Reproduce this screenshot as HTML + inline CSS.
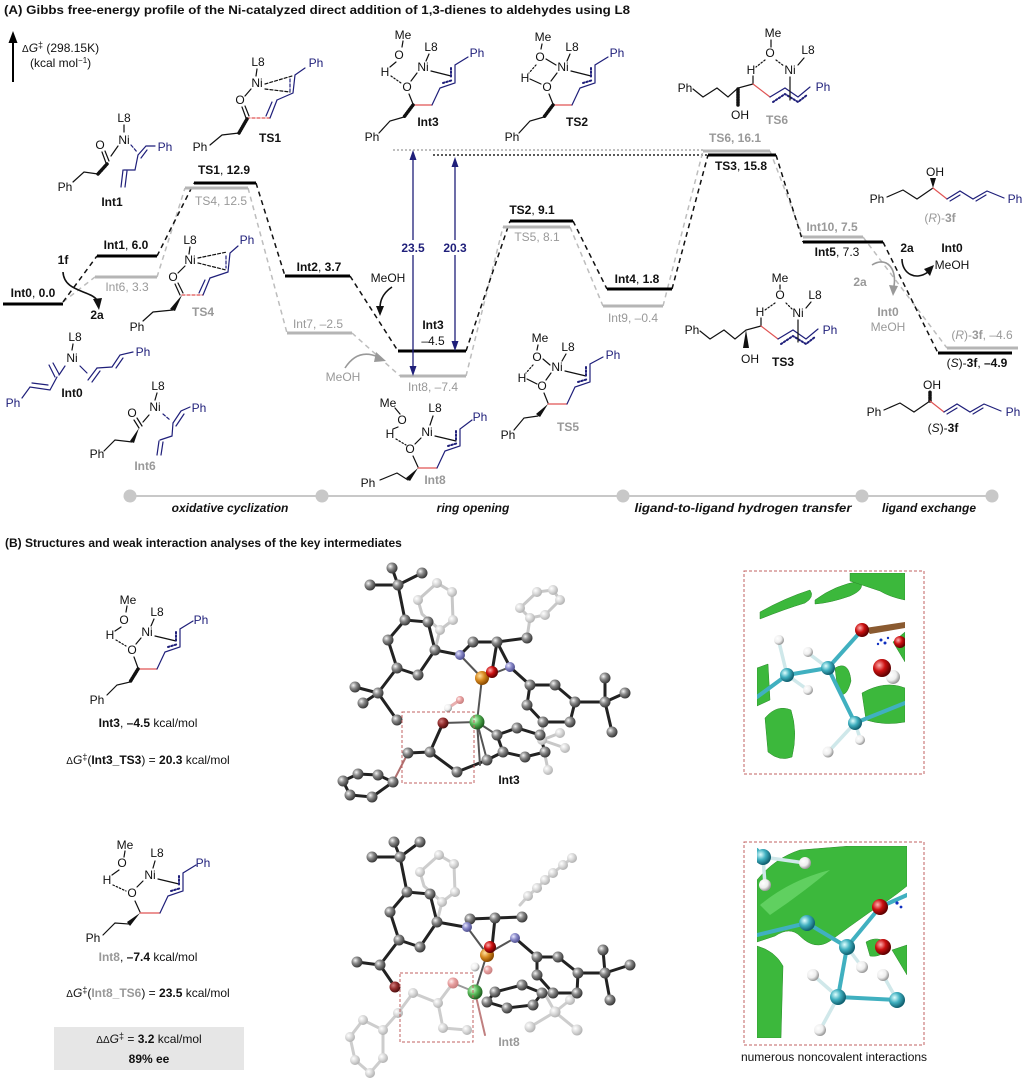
<!DOCTYPE html>
<html><head><meta charset="utf-8">
<style>
html,body{margin:0;padding:0;background:#fff;}
svg{display:block;}
text{font-family:"Liberation Sans",Arial,sans-serif;font-size:12px;fill:#111;stroke:none;}
.m{text-anchor:middle}
.b{font-weight:bold}
.g{fill:#999}
.bl{fill:#1f1f7a}
.i{font-style:italic}
.bi{font-weight:bold;font-style:italic}
.h{stroke-width:3.5;stroke-dasharray:1 1.6}
.dt{stroke-dasharray:1.5 2}
.ds{stroke-dasharray:3 2}
.bs{stroke:#1f1f7a}
.rs{stroke:#e05555}
</style></head><body>
<svg width="1027" height="1085" viewBox="0 0 1027 1085" xmlns="http://www.w3.org/2000/svg">
<defs>
<radialGradient id="gD" cx="35%" cy="35%" r="65%"><stop offset="0" stop-color="#f5f5f5"/><stop offset="0.45" stop-color="#8a8a8a"/><stop offset="1" stop-color="#3a3a3a"/></radialGradient>
<radialGradient id="gL" cx="35%" cy="35%" r="65%"><stop offset="0" stop-color="#ffffff"/><stop offset="0.5" stop-color="#dcdcdc"/><stop offset="1" stop-color="#b4b4b4"/></radialGradient>
<radialGradient id="gN" cx="35%" cy="35%" r="65%"><stop offset="0" stop-color="#e8e8ff"/><stop offset="0.5" stop-color="#8888c8"/><stop offset="1" stop-color="#505090"/></radialGradient>
<radialGradient id="gP" cx="35%" cy="35%" r="65%"><stop offset="0" stop-color="#ffe0a0"/><stop offset="0.5" stop-color="#d88a20"/><stop offset="1" stop-color="#8a4a00"/></radialGradient>
<radialGradient id="gO" cx="35%" cy="35%" r="65%"><stop offset="0" stop-color="#ffb0b0"/><stop offset="0.5" stop-color="#cc1010"/><stop offset="1" stop-color="#600000"/></radialGradient>
<radialGradient id="gOd" cx="35%" cy="35%" r="65%"><stop offset="0" stop-color="#d08080"/><stop offset="0.5" stop-color="#963030"/><stop offset="1" stop-color="#501010"/></radialGradient>
<radialGradient id="gPk" cx="35%" cy="35%" r="65%"><stop offset="0" stop-color="#fff0f0"/><stop offset="0.5" stop-color="#e8a0a0"/><stop offset="1" stop-color="#c88080"/></radialGradient>
<radialGradient id="gNi" cx="35%" cy="35%" r="65%"><stop offset="0" stop-color="#d8ffd8"/><stop offset="0.5" stop-color="#58b858"/><stop offset="1" stop-color="#206020"/></radialGradient>
<radialGradient id="gC" cx="35%" cy="35%" r="65%"><stop offset="0" stop-color="#e0ffff"/><stop offset="0.5" stop-color="#40b0c0"/><stop offset="1" stop-color="#106070"/></radialGradient>
<radialGradient id="gH" cx="35%" cy="35%" r="65%"><stop offset="0" stop-color="#ffffff"/><stop offset="0.6" stop-color="#eeeeee"/><stop offset="1" stop-color="#9a9a9a"/></radialGradient>
<clipPath id="c1"><rect x="757" y="573" width="148" height="198"/></clipPath>
<clipPath id="c2"><rect x="757" y="846" width="150" height="192"/></clipPath>
</defs>

<!-- ============ PANEL A ============ -->
<text x="4" y="14" class="b" textLength="626" lengthAdjust="spacingAndGlyphs">(A) Gibbs free-energy profile of the Ni-catalyzed direct addition of 1,3-dienes to aldehydes using L8</text>

<!-- axis -->
<line x1="13" y1="82" x2="13" y2="40" stroke="#000" stroke-width="2"/>
<polygon points="13,31 8.5,43 17.5,43" fill="#000"/>
<text x="22" y="52"><tspan font-size="10">Δ</tspan><tspan class="i">G</tspan><tspan font-size="9" dy="-4">‡</tspan><tspan dy="4"> (298.15K)</tspan></text>
<text x="30" y="67">(kcal mol<tspan font-size="8" dy="-4">−1</tspan><tspan dy="4">)</tspan></text>

<!-- dotted reference lines -->
<line x1="393" y1="150" x2="703" y2="150" stroke="#aaa" stroke-width="1.5" stroke-dasharray="2 2"/>
<line x1="433" y1="155" x2="708" y2="155" stroke="#222" stroke-width="1.5" stroke-dasharray="2 2"/>

<!-- gray dashed connectors -->
<g stroke="#bdbdbd" stroke-width="1.5" stroke-dasharray="5 4" fill="none">
<line x1="63" y1="302" x2="95" y2="277"/>
<line x1="157" y1="277" x2="185" y2="188"/>
<line x1="248" y1="188" x2="287" y2="333"/>
<line x1="352" y1="333" x2="400" y2="376"/>
<line x1="466" y1="376" x2="503" y2="227"/>
<line x1="570" y1="227" x2="603" y2="306"/>
<line x1="663" y1="306" x2="703" y2="151"/>
<line x1="770" y1="151" x2="803" y2="237"/>
<line x1="863" y1="237" x2="947" y2="348"/>
</g>
<!-- black dashed connectors -->
<g stroke="#111" stroke-width="1.5" stroke-dasharray="5 4" fill="none">
<line x1="63" y1="302" x2="97" y2="256"/>
<line x1="157" y1="256" x2="194" y2="183"/>
<line x1="256" y1="183" x2="285" y2="276"/>
<line x1="350" y1="276" x2="398" y2="351"/>
<line x1="466" y1="351" x2="510" y2="221"/>
<line x1="573" y1="221" x2="607" y2="289"/>
<line x1="672" y1="289" x2="708" y2="155"/>
<line x1="776" y1="155" x2="803" y2="242"/>
<line x1="883" y1="242" x2="938" y2="353"/>
</g>

<!-- gray levels -->
<g stroke="#b5b5b5" stroke-width="3">
<line x1="95" y1="277" x2="157" y2="277"/>
<line x1="185" y1="188" x2="248" y2="188"/>
<line x1="287" y1="333" x2="352" y2="333"/>
<line x1="400" y1="376" x2="466" y2="376"/>
<line x1="503" y1="227" x2="570" y2="227"/>
<line x1="603" y1="306" x2="663" y2="306"/>
<line x1="703" y1="151" x2="770" y2="151"/>
<line x1="803" y1="237" x2="863" y2="237"/>
<line x1="947" y1="348" x2="1018" y2="348"/>
</g>
<!-- black levels -->
<g stroke="#000" stroke-width="3">
<line x1="3" y1="304" x2="63" y2="304"/>
<line x1="97" y1="256" x2="157" y2="256"/>
<line x1="194" y1="183" x2="256" y2="183"/>
<line x1="285" y1="276" x2="350" y2="276"/>
<line x1="398" y1="351" x2="466" y2="351"/>
<line x1="510" y1="221" x2="573" y2="221"/>
<line x1="607" y1="289" x2="672" y2="289"/>
<line x1="708" y1="155" x2="776" y2="155"/>
<line x1="803" y1="242" x2="883" y2="242"/>
<line x1="938" y1="353" x2="1012" y2="353"/>
</g>

<!-- level labels -->
<text class="m" x="33" y="297"><tspan class="b">Int0</tspan>, <tspan class="b">0.0</tspan></text>
<text class="m" x="126" y="249"><tspan class="b">Int1</tspan>, <tspan class="b">6.0</tspan></text>
<text class="m g" x="127" y="291">Int6, 3.3</text>
<text class="m" x="224" y="174"><tspan class="b">TS1</tspan>, <tspan class="b">12.9</tspan></text>
<text class="m g" x="221" y="205">TS4, 12.5</text>
<text class="m" x="319" y="271"><tspan class="b">Int2</tspan>, <tspan class="b">3.7</tspan></text>
<text class="m g" x="318" y="328">Int7, –2.5</text>
<text class="m b" x="433" y="329">Int3</text>
<text class="m" x="433" y="345">–4.5</text>
<text class="m g" x="433" y="391">Int8, –7.4</text>
<text class="m" x="532" y="214"><tspan class="b">TS2</tspan>, <tspan class="b">9.1</tspan></text>
<text class="m g" x="537" y="241">TS5, 8.1</text>
<text class="m" x="637" y="283"><tspan class="b">Int4</tspan>, <tspan class="b">1.8</tspan></text>
<text class="m g" x="633" y="322">Int9, –0.4</text>
<text class="m g b" x="735" y="142">TS6, 16.1</text>
<text class="m" x="741" y="170"><tspan class="b">TS3</tspan>, <tspan class="b">15.8</tspan></text>
<text class="m g b" x="832" y="231">Int10, 7.5</text>
<text class="m" x="837" y="256"><tspan class="b">Int5</tspan>, 7.3</text>
<text class="m g" x="982" y="339">(<tspan class="i">R</tspan>)-<tspan class="b">3f</tspan>, –4.6</text>
<text class="m" x="977" y="367">(<tspan class="i">S</tspan>)-<tspan class="b">3f</tspan>, <tspan class="b">–4.9</tspan></text>

<!-- blue arrows -->
<g stroke="#1f1f7a" stroke-width="1.3">
<line x1="413" y1="157" x2="413" y2="369"/>
<line x1="455" y1="164" x2="455" y2="344"/>
</g>
<g fill="#1f1f7a">
<polygon points="413,150 409.5,160 416.5,160"/>
<polygon points="413,376 409.5,366 416.5,366"/>
<polygon points="455,157 451.5,167 458.5,167"/>
<polygon points="455,351 451.5,341 458.5,341"/>
</g>
<rect x="400" y="240" width="27" height="15" fill="#fff"/>
<rect x="441" y="240" width="28" height="15" fill="#fff"/>
<text class="m b bl" x="413" y="252">23.5</text>
<text class="m b bl" x="455" y="252">20.3</text>

<!-- curved arrows -->
<text class="m b" x="63" y="264">1f</text>
<path d="M63,272 C64,292 90,290 97,300" stroke="#111" stroke-width="1.6" fill="none"/>
<polygon points="93,299 102,298 99,310" fill="#111"/>
<text class="m b" x="97" y="319">2a</text>

<text class="m" x="388" y="282">MeOH</text>
<path d="M392,287 Q380,295 380,308" stroke="#111" stroke-width="1.6" fill="none"/>
<polygon points="376,306 384,306 380,316" fill="#111"/>

<text class="m g" x="343" y="381">MeOH</text>
<path d="M345,368 Q358,348 378,357" stroke="#999" stroke-width="1.6" fill="none"/>
<polygon points="376,352 386,361 374,362" fill="#999"/>

<text class="m b" x="907" y="252">2a</text>
<text class="m b" x="952" y="252">Int0</text>
<text class="m" x="952" y="269">MeOH</text>
<path d="M902,259 C902,274 916,281 928,272" stroke="#111" stroke-width="1.6" fill="none"/>
<polygon points="924,269 934,265 930,276" fill="#111"/>

<text class="m b g" x="860" y="286">2a</text>
<path d="M872,265 C886,256 897,268 894,286" stroke="#999" stroke-width="1.6" fill="none"/>
<polygon points="889,285 898,286 893,296" fill="#999"/>
<text class="m b g" x="888" y="316">Int0</text>
<text class="m g" x="888" y="331">MeOH</text>

<!-- phase bar -->
<line x1="130" y1="496" x2="992" y2="496" stroke="#c8c8c8" stroke-width="2"/>
<g fill="#c8c8c8">
<circle cx="130" cy="496" r="6.5"/><circle cx="322" cy="496" r="6.5"/><circle cx="623" cy="496" r="6.5"/><circle cx="862" cy="496" r="6.5"/><circle cx="992" cy="496" r="6.5"/>
</g>
<text class="m bi" x="230" y="512">oxidative cyclization</text>
<text class="m bi" x="473" y="512">ring opening</text>
<text class="m bi" x="743" y="512" textLength="217" lengthAdjust="spacingAndGlyphs">ligand-to-ligand hydrogen transfer</text>
<text class="m bi" x="929" y="512">ligand exchange</text>

<!-- ===== chemical structures ===== -->
<g stroke="#111" stroke-width="1.2" fill="none" stroke-linecap="round">

<!-- Int1 -->
<text class="m" x="124" y="122">L8</text>
<line x1="124" y1="125" x2="124" y2="132"/>
<text class="m" x="124" y="144">Ni</text>
<text class="m" x="100" y="149">O</text>
<line x1="102" y1="152" x2="106" y2="163"/>
<line x1="105" y1="151" x2="109" y2="161"/>
<line x1="111" y1="156" x2="118" y2="146"/>
<line x1="107" y1="164" x2="98" y2="174" class="h"/>
<polyline points="98,174 84,172 73,182"/>
<text class="m" x="65" y="191">Ph</text>
<line x1="131" y1="145" x2="137" y2="152" class="bs ds"/>
<polyline points="138,155 146,146 155,146" class="bs"/>
<line x1="141" y1="158" x2="147" y2="150" class="bs"/>
<polyline points="138,155 135,170 124,170" class="bs"/>
<line x1="123" y1="170" x2="121" y2="187" class="bs"/>
<line x1="127" y1="171" x2="125" y2="187" class="bs"/>
<text class="m bl" x="165" y="151">Ph</text>
<text class="m b" x="112" y="206">Int1</text>

<!-- TS1 -->
<text class="m" x="258" y="66">L8</text>
<line x1="257" y1="69" x2="256" y2="76"/>
<text class="m" x="257" y="87">Ni</text>
<text class="m" x="240" y="104">O</text>
<line x1="245" y1="96" x2="251" y2="89"/>
<line x1="242" y1="107" x2="246" y2="118"/>
<line x1="245" y1="106" x2="249" y2="116"/>
<line x1="247" y1="118" x2="270" y2="118" class="rs ds"/>
<line x1="270" y1="118" x2="277" y2="100" class="bs"/>
<line x1="266" y1="116" x2="272" y2="102" class="bs"/>
<polyline points="277,100 293,93 295,75 305,68" class="bs"/>
<line x1="265" y1="84" x2="292" y2="76" class="ds"/>
<line x1="265" y1="89" x2="290" y2="92" class="ds"/>
<line x1="290" y1="79" x2="290" y2="91" class="bs ds"/>
<text class="m bl" x="316" y="67">Ph</text>
<line x1="247" y1="119" x2="239" y2="133" class="h"/>
<polyline points="239,133 222,135 210,145"/>
<text class="m" x="200" y="151">Ph</text>
<text class="m b" x="270" y="142">TS1</text>

<!-- TS4 -->
<text class="m" x="190" y="244">L8</text>
<line x1="190" y1="247" x2="189" y2="254"/>
<text class="m" x="190" y="264">Ni</text>
<text class="m" x="173" y="281">O</text>
<line x1="178" y1="273" x2="185" y2="266"/>
<line x1="175" y1="284" x2="180" y2="295"/>
<line x1="178" y1="283" x2="183" y2="293"/>
<line x1="182" y1="295" x2="203" y2="295" class="rs ds"/>
<line x1="203" y1="295" x2="210" y2="278" class="bs"/>
<line x1="199" y1="293" x2="205" y2="280" class="bs"/>
<polyline points="210,278 228,272 230,253 238,246" class="bs"/>
<line x1="198" y1="258" x2="227" y2="252" class="ds"/>
<line x1="198" y1="263" x2="226" y2="270" class="ds"/>
<line x1="226" y1="256" x2="226" y2="268" class="bs ds"/>
<text class="m bl" x="247" y="244">Ph</text>
<polygon points="182,295 170,309 175,311" fill="#111" stroke="none"/>
<polyline points="173,310 153,312 143,321"/>
<text class="m" x="137" y="331">Ph</text>
<text class="m b g" x="203" y="316">TS4</text>

<!-- Int0 -->
<text class="m" x="75" y="341">L8</text>
<line x1="73" y1="344" x2="72" y2="350"/>
<text class="m" x="72" y="362">Ni</text>
<line x1="49" y1="365" x2="55" y2="377" class="bs"/>
<line x1="53" y1="363" x2="59" y2="374" class="bs"/>
<line x1="65" y1="366" x2="59" y2="375" class="bs"/>
<polyline points="57,377 50,390 30,387 22,398" class="bs"/>
<line x1="48" y1="385" x2="32" y2="383" class="bs"/>
<line x1="80" y1="366" x2="87" y2="373" class="bs"/>
<line x1="88" y1="380" x2="97" y2="368" class="bs"/>
<line x1="92" y1="382" x2="100" y2="371" class="bs"/>
<polyline points="97,368 112,367 120,355 133,352" class="bs"/>
<line x1="116" y1="368" x2="123" y2="358" class="bs"/>
<text class="m bl" x="143" y="356">Ph</text>
<text class="m bl" x="13" y="407">Ph</text>
<text class="m b" x="72" y="397">Int0</text>

<!-- Int6 -->
<text class="m" x="158" y="390">L8</text>
<line x1="157" y1="393" x2="155" y2="400"/>
<text class="m" x="155" y="411">Ni</text>
<text class="m" x="132" y="417">O</text>
<line x1="134" y1="420" x2="139" y2="428"/>
<line x1="137" y1="418" x2="142" y2="426"/>
<line x1="143" y1="422" x2="149" y2="415"/>
<polygon points="139,428 130,441 134,443" fill="#111" stroke="none"/>
<polyline points="132,442 115,440 104,451"/>
<text class="m" x="97" y="458">Ph</text>
<line x1="163" y1="414" x2="170" y2="420" class="bs ds"/>
<polyline points="173,423 181,411 190,407" class="bs"/>
<line x1="176" y1="426" x2="184" y2="414" class="bs"/>
<polyline points="173,423 172,436 160,440" class="bs"/>
<line x1="159" y1="441" x2="157" y2="455" class="bs"/>
<line x1="163" y1="442" x2="161" y2="455" class="bs"/>
<text class="m bl" x="199" y="412">Ph</text>
<text class="m b g" x="145" y="470">Int6</text>

<!-- Int3 (top) -->
<g transform="translate(423,67)">
<text class="m" x="-20" y="-28">Me</text>
<line x1="-20" y1="-26" x2="-21" y2="-20"/>
<text class="m" x="-24" y="-8">O</text>
<text class="m" x="8" y="-16">L8</text>
<line x1="6" y1="-13" x2="3" y2="-6"/>
<text class="m" x="0" y="4">Ni</text>
<text class="m" x="-38" y="9">H</text>
<line x1="-27" y1="-5" x2="-33" y2="0"/>
<line x1="-32" y1="9" x2="-22" y2="16" class="dt"/>
<text class="m" x="-16" y="24">O</text>
<line x1="-6" y1="6" x2="-12" y2="14"/>
<line x1="-14" y1="27" x2="-10" y2="37"/>
<line x1="-10" y1="38" x2="9" y2="38" class="rs"/>
<polyline points="9,38 17,21 32,16 32,-2 45,-10" class="bs"/>
<line x1="8" y1="4" x2="28" y2="9"/>
<line x1="20" y1="16" x2="30" y2="13" class="bs dt" stroke-width="2"/>
<line x1="28" y1="1" x2="28" y2="11" class="bs dt" stroke-width="2"/>
<line x1="-10" y1="38" x2="-19" y2="50" class="h"/>
<polyline points="-19,50 -33,54 -44,66"/>
<text class="m" x="-51" y="74">Ph</text>
<text class="m bl" x="54" y="-10">Ph</text>
</g>
<text class="m b" x="428" y="126">Int3</text>

<!-- TS2 -->
<g transform="translate(563,67)">
<text class="m" x="-20" y="-26">Me</text>
<line x1="-21" y1="-23" x2="-22" y2="-18"/>
<text class="m" x="-23" y="-6">O</text>
<line x1="-17" y1="-8" x2="-7" y2="-2"/>
<text class="m" x="9" y="-16">L8</text>
<line x1="7" y1="-13" x2="4" y2="-6"/>
<text class="m" x="0" y="4">Ni</text>
<text class="m" x="-38" y="15">H</text>
<line x1="-27" y1="-2" x2="-34" y2="6" class="dt"/>
<line x1="-33" y1="12" x2="-22" y2="17"/>
<text class="m" x="-16" y="24">O</text>
<line x1="-6" y1="6" x2="-12" y2="14"/>
<line x1="-14" y1="27" x2="-10" y2="37"/>
<line x1="-10" y1="38" x2="9" y2="38" class="rs"/>
<polyline points="9,38 17,21 32,16 32,-2 45,-10" class="bs"/>
<line x1="8" y1="4" x2="28" y2="9"/>
<line x1="20" y1="16" x2="30" y2="13" class="bs dt" stroke-width="2"/>
<line x1="28" y1="1" x2="28" y2="11" class="bs dt" stroke-width="2"/>
<line x1="-10" y1="38" x2="-19" y2="50" class="h"/>
<polyline points="-19,50 -33,54 -44,66"/>
<text class="m" x="-51" y="74">Ph</text>
<text class="m bl" x="54" y="-10">Ph</text>
</g>
<text class="m b" x="577" y="126">TS2</text>

<!-- TS5 -->
<g transform="translate(557,367)">
<text class="m" x="-17" y="-25">Me</text>
<line x1="-19" y1="-22" x2="-20" y2="-17"/>
<text class="m" x="-20" y="-6">O</text>
<line x1="-14" y1="-8" x2="-7" y2="-2"/>
<text class="m" x="11" y="-16">L8</text>
<line x1="9" y1="-13" x2="5" y2="-6"/>
<text class="m" x="0" y="4">Ni</text>
<text class="m" x="-35" y="15">H</text>
<line x1="-24" y1="-2" x2="-31" y2="6" class="dt"/>
<line x1="-30" y1="12" x2="-20" y2="17"/>
<text class="m" x="-15" y="23">O</text>
<line x1="-6" y1="6" x2="-11" y2="13"/>
<line x1="-13" y1="26" x2="-9" y2="36"/>
<line x1="-9" y1="37" x2="10" y2="37" class="rs"/>
<polyline points="10,37 18,20 33,15 33,-3 46,-10" class="bs"/>
<line x1="8" y1="4" x2="29" y2="9"/>
<line x1="21" y1="15" x2="31" y2="12" class="bs dt" stroke-width="2"/>
<line x1="29" y1="0" x2="29" y2="10" class="bs dt" stroke-width="2"/>
<polygon points="-9,37 -21,47 -17,50" fill="#111" stroke="none"/>
<polyline points="-19,49 -33,51 -43,63"/>
<text class="m" x="-49" y="72">Ph</text>
<text class="m bl" x="56" y="-8">Ph</text>
</g>
<text class="m b g" x="568" y="431">TS5</text>

<!-- Int8 (top) -->
<g transform="translate(427,432)">
<text class="m" x="-39" y="-25">Me</text>
<line x1="-32" y1="-24" x2="-27" y2="-18"/>
<text class="m" x="-25" y="-8">O</text>
<text class="m" x="8" y="-20">L8</text>
<line x1="6" y1="-16" x2="3" y2="-7"/>
<text class="m" x="0" y="4">Ni</text>
<text class="m" x="-37" y="6">H</text>
<line x1="-29" y1="-5" x2="-34" y2="-3" />
<line x1="-31" y1="7" x2="-21" y2="13" class="dt"/>
<text class="m" x="-17" y="21">O</text>
<line x1="-6" y1="6" x2="-12" y2="12"/>
<line x1="-14" y1="24" x2="-9" y2="35"/>
<line x1="-9" y1="36" x2="10" y2="36" class="rs"/>
<polyline points="10,36 18,19 33,14 33,-3 45,-12" class="bs"/>
<line x1="8" y1="4" x2="29" y2="9"/>
<line x1="21" y1="14" x2="31" y2="11" class="bs dt" stroke-width="2"/>
<line x1="29" y1="-1" x2="29" y2="9" class="bs dt" stroke-width="2"/>
<polygon points="-9,36 -21,46 -17,49" fill="#111" stroke="none"/>
<polyline points="-19,48 -30,41 -47,48"/>
<text class="m" x="-59" y="55">Ph</text>
<text class="m bl" x="53" y="-11">Ph</text>
</g>
<text class="m b g" x="435" y="484">Int8</text>

<!-- TS6 -->
<g transform="translate(790,70)">
<text class="m" x="-17" y="-33">Me</text>
<line x1="-19" y1="-30" x2="-19" y2="-23"/>
<text class="m" x="-20" y="-13">O</text>
<text class="m" x="18" y="-16">L8</text>
<line x1="14" y1="-12" x2="8" y2="-5"/>
<text class="m" x="0" y="4">Ni</text>
<text class="m" x="-39" y="4">H</text>
<line x1="-25" y1="-10" x2="-34" y2="-3" class="dt"/>
<line x1="-14" y1="-10" x2="-6" y2="-4" class="dt"/>
<text class="m" x="-105" y="22">Ph</text>
<polyline points="-97,19 -87,27 -73,18 -62,27 -52,18 -37,14"/>
<line x1="-37" y1="14" x2="-37" y2="6"/>
<line x1="-52" y1="19" x2="-52" y2="35" class="h"/>
<text class="m" x="-50" y="49">OH</text>
<line x1="-37" y1="14" x2="-20" y2="27" class="rs"/>
<polyline points="-20,27 -5,18 8,27 20,17" class="bs"/>
<polyline points="-17,32 -5,24 8,32 17,25" class="bs dt" stroke-width="2"/>
<line x1="0" y1="7" x2="0" y2="30"/>
<text class="m bl" x="33" y="21">Ph</text>
</g>
<text class="m b g" x="777" y="124">TS6</text>

<!-- TS3 -->
<g transform="translate(798,313)">
<text class="m" x="-18" y="-31">Me</text>
<line x1="-18" y1="-28" x2="-18" y2="-24"/>
<text class="m" x="-18" y="-14">O</text>
<text class="m" x="17" y="-14">L8</text>
<line x1="13" y1="-11" x2="8" y2="-5"/>
<text class="m" x="0" y="4">Ni</text>
<text class="m" x="-38" y="3">H</text>
<line x1="-23" y1="-10" x2="-33" y2="-3" class="dt"/>
<line x1="-12" y1="-10" x2="-6" y2="-4" class="dt"/>
<text class="m" x="-106" y="21">Ph</text>
<polyline points="-98,18 -88,26 -74,17 -63,26 -52,17 -37,13"/>
<line x1="-37" y1="13" x2="-37" y2="5"/>
<polygon points="-52,17 -55,35 -49,35" fill="#111" stroke="none"/>
<text class="m" x="-48" y="50">OH</text>
<line x1="-37" y1="13" x2="-20" y2="26" class="rs"/>
<polyline points="-20,26 -5,17 8,26 20,16" class="bs"/>
<polyline points="-17,31 -5,23 8,31 17,24" class="bs dt" stroke-width="2"/>
<line x1="0" y1="7" x2="0" y2="29"/>
<text class="m bl" x="32" y="21">Ph</text>
</g>
<text class="m b" x="783" y="366">TS3</text>

<!-- (R)-3f -->
<text class="m" x="877" y="203">Ph</text>
<polyline points="887,197 903,190 917,199 933,188"/>
<polygon points="933,188 930,178 936,178" fill="#111" stroke="none"/>
<text class="m" x="935" y="176">OH</text>
<line x1="933" y1="188" x2="947" y2="199" class="rs"/>
<polyline points="947,199 960,191 973,199 987,191 1004,198" class="bs"/>
<line x1="950" y1="201" x2="960" y2="195" class="bs"/>
<line x1="976" y1="201" x2="986" y2="195" class="bs"/>
<text class="m bl" x="1015" y="203">Ph</text>
<text class="m g" x="940" y="222">(<tspan class="i">R</tspan>)-<tspan class="b">3f</tspan></text>

<!-- (S)-3f -->
<g transform="translate(-3,213)">
<text class="m" x="877" y="203">Ph</text>
<polyline points="887,197 903,190 917,199 933,188"/>
<line x1="933" y1="188" x2="933" y2="178" class="h"/>
<text class="m" x="935" y="176">OH</text>
<line x1="933" y1="188" x2="947" y2="199" class="rs"/>
<polyline points="947,199 960,191 973,199 987,191 1004,198" class="bs"/>
<line x1="950" y1="201" x2="960" y2="195" class="bs"/>
<line x1="976" y1="201" x2="986" y2="195" class="bs"/>
<text class="m bl" x="1016" y="203">Ph</text>
</g>
<text class="m" x="943" y="432">(<tspan class="i">S</tspan>)-<tspan class="b">3f</tspan></text>

<!-- Panel B Int3 -->
<g transform="translate(147,632)">
<text class="m" x="-19" y="-28">Me</text>
<line x1="-20" y1="-26" x2="-21" y2="-20"/>
<text class="m" x="-23" y="-8">O</text>
<text class="m" x="10" y="-16">L8</text>
<line x1="7" y1="-13" x2="4" y2="-6"/>
<text class="m" x="0" y="4">Ni</text>
<text class="m" x="-37" y="7">H</text>
<line x1="-26" y1="-5" x2="-32" y2="-1"/>
<line x1="-31" y1="8" x2="-21" y2="14" class="dt"/>
<text class="m" x="-15" y="22">O</text>
<line x1="-6" y1="6" x2="-11" y2="12"/>
<line x1="-13" y1="25" x2="-9" y2="36"/>
<line x1="-9" y1="37" x2="10" y2="37" class="rs"/>
<polyline points="10,37 18,20 33,15 33,-3 46,-11" class="bs"/>
<line x1="8" y1="4" x2="29" y2="9"/>
<line x1="21" y1="15" x2="31" y2="12" class="bs dt" stroke-width="2"/>
<line x1="29" y1="0" x2="29" y2="10" class="bs dt" stroke-width="2"/>
<line x1="-9" y1="37" x2="-17" y2="50" class="h"/>
<polyline points="-17,50 -30,53 -40,63"/>
<text class="m" x="-50" y="72">Ph</text>
<text class="m bl" x="54" y="-8">Ph</text>
</g>

<!-- Panel B Int8 -->
<g transform="translate(150,875)">
<text class="m" x="-25" y="-26">Me</text>
<line x1="-25" y1="-24" x2="-26" y2="-18"/>
<text class="m" x="-28" y="-8">O</text>
<text class="m" x="7" y="-18">L8</text>
<line x1="5" y1="-14" x2="3" y2="-7"/>
<text class="m" x="0" y="4">Ni</text>
<text class="m" x="-43" y="9">H</text>
<line x1="-31" y1="-5" x2="-38" y2="0"/>
<line x1="-37" y1="10" x2="-24" y2="16" class="dt"/>
<text class="m" x="-18" y="22">O</text>
<line x1="-7" y1="6" x2="-13" y2="12"/>
<line x1="-15" y1="26" x2="-10" y2="37"/>
<line x1="-10" y1="38" x2="10" y2="38" class="rs"/>
<polyline points="10,38 18,21 33,16 33,-2 46,-10" class="bs"/>
<line x1="8" y1="4" x2="29" y2="9"/>
<line x1="21" y1="16" x2="31" y2="13" class="bs dt" stroke-width="2"/>
<line x1="29" y1="1" x2="29" y2="11" class="bs dt" stroke-width="2"/>
<polygon points="-10,38 -23,47 -20,51" fill="#111" stroke="none"/>
<polyline points="-21,49 -35,48 -47,60"/>
<text class="m" x="-57" y="67">Ph</text>
<text class="m bl" x="53" y="-8">Ph</text>
</g>
</g>

<!-- ============ PANEL B ============ -->
<text x="5" y="547" class="b">(B) Structures and weak interaction analyses of the key intermediates</text>

<text class="m" x="148" y="727"><tspan class="b">Int3</tspan>, <tspan class="b">–4.5</tspan> kcal/mol</text>
<text class="m" x="148" y="764"><tspan font-size="10">Δ</tspan><tspan class="i">G</tspan><tspan font-size="9" dy="-4">‡</tspan><tspan dy="4">(</tspan><tspan class="b">Int3_TS3</tspan>) = <tspan class="b">20.3</tspan> kcal/mol</text>
<text class="m" x="148" y="961"><tspan class="b g">Int8</tspan>, <tspan class="b">–7.4</tspan> kcal/mol</text>
<text class="m" x="148" y="997"><tspan font-size="10">Δ</tspan><tspan class="i">G</tspan><tspan font-size="9" dy="-4">‡</tspan><tspan dy="4">(</tspan><tspan class="b g">Int8_TS6</tspan>) = <tspan class="b">23.5</tspan> kcal/mol</text>
<rect x="54" y="1027" width="190" height="43" fill="#e6e6e6"/>
<text class="m" x="149" y="1043"><tspan font-size="10">ΔΔ</tspan><tspan class="i">G</tspan><tspan font-size="9" dy="-4">‡</tspan><tspan dy="4"> = </tspan><tspan class="b">3.2</tspan> kcal/mol</text>
<text class="m b" x="149" y="1063">89% ee</text>

<!-- 3D Int3 -->
<g stroke-linecap="round" fill="none">
<g stroke="#c8c8c8" stroke-width="3">
<polygon points="418,600 437,583 452,592 453,620 440,630 422,614"/>
<line x1="440" y1="630" x2="435" y2="650"/>
<polygon points="553,590 560,600 545,615 530,618 520,608 537,592"/>
<line x1="530" y1="618" x2="527" y2="638"/>
<line x1="543" y1="722" x2="542" y2="740"/>
<line x1="542" y1="740" x2="560" y2="733"/>
<line x1="542" y1="740" x2="548" y2="770"/>
<line x1="542" y1="740" x2="565" y2="748"/>
<line x1="460" y1="700" x2="448" y2="708" stroke="#e8b0b0"/>
</g>
<g stroke="#222" stroke-width="3">
<line x1="398" y1="585" x2="392" y2="568"/><line x1="398" y1="585" x2="370" y2="585"/><line x1="398" y1="585" x2="422" y2="573"/><line x1="398" y1="585" x2="405" y2="620"/>
<polygon points="405,620 388,640 397,668 418,675 435,650 428,622"/>
<line x1="397" y1="668" x2="378" y2="693"/><line x1="378" y1="693" x2="355" y2="687"/><line x1="378" y1="693" x2="363" y2="703"/><line x1="378" y1="693" x2="397" y2="720"/>
<line x1="435" y1="650" x2="460" y2="655"/>
<line x1="473" y1="642" x2="497" y2="642"/><line x1="497" y1="642" x2="527" y2="638"/><line x1="497" y1="642" x2="492" y2="672"/><line x1="473" y1="642" x2="460" y2="655"/><line x1="497" y1="642" x2="510" y2="667"/>
<line x1="510" y1="667" x2="530" y2="685"/>
<polygon points="530,685 555,685 575,702 570,722 543,722 527,705"/>
<line x1="575" y1="702" x2="605" y2="702"/><line x1="605" y1="702" x2="605" y2="678"/><line x1="605" y1="702" x2="625" y2="693"/><line x1="605" y1="702" x2="612" y2="732"/>
<line x1="443" y1="723" x2="430" y2="752"/><line x1="430" y1="752" x2="408" y2="753"/><line x1="430" y1="752" x2="457" y2="772"/><line x1="457" y1="772" x2="487" y2="760"/>
<polygon points="497,735 517,728 540,735 545,752 525,757 503,752"/>
<line x1="487" y1="760" x2="503" y2="752"/>
<polygon points="393,782 378,775 358,774 343,781 350,795 372,797"/>
</g>
<line x1="408" y1="753" x2="393" y2="782" stroke="#b07070" stroke-width="2"/>
<g stroke="#555" stroke-width="2">
<line x1="460" y1="655" x2="482" y2="678"/><line x1="482" y1="678" x2="510" y2="667"/><line x1="482" y1="678" x2="477" y2="722"/><line x1="477" y1="722" x2="443" y2="723"/>
<line x1="477" y1="722" x2="487" y2="760"/><line x1="477" y1="722" x2="480" y2="765"/><line x1="477" y1="722" x2="497" y2="735"/>
</g>
</g>
<g>
<g fill="url(#gL)">
<circle cx="418" cy="600" r="5"/><circle cx="437" cy="583" r="5"/><circle cx="452" cy="592" r="5"/><circle cx="453" cy="620" r="5"/><circle cx="440" cy="630" r="5"/>
<circle cx="553" cy="590" r="5"/><circle cx="560" cy="600" r="5"/><circle cx="545" cy="615" r="5"/><circle cx="530" cy="618" r="5"/><circle cx="520" cy="608" r="5"/><circle cx="537" cy="592" r="5"/>
<circle cx="542" cy="740" r="5"/><circle cx="560" cy="733" r="5"/><circle cx="548" cy="770" r="5"/><circle cx="565" cy="748" r="5"/>
</g>
<circle cx="460" cy="700" r="4" fill="url(#gPk)"/><circle cx="448" cy="708" r="4" fill="url(#gH)"/>
<g fill="url(#gD)">
<circle cx="398" cy="585" r="5.5"/><circle cx="392" cy="568" r="5.5"/><circle cx="370" cy="585" r="5.5"/><circle cx="422" cy="573" r="5.5"/>
<circle cx="405" cy="620" r="5.5"/><circle cx="388" cy="640" r="5.5"/><circle cx="397" cy="668" r="5.5"/><circle cx="418" cy="675" r="5.5"/><circle cx="435" cy="650" r="5.5"/><circle cx="428" cy="622" r="5.5"/>
<circle cx="378" cy="693" r="5.5"/><circle cx="355" cy="687" r="5.5"/><circle cx="363" cy="703" r="5.5"/><circle cx="397" cy="720" r="5.5"/>
<circle cx="473" cy="642" r="5.5"/><circle cx="497" cy="642" r="5.5"/><circle cx="527" cy="638" r="5.5"/>
<circle cx="530" cy="685" r="5.5"/><circle cx="555" cy="685" r="5.5"/><circle cx="575" cy="702" r="5.5"/><circle cx="570" cy="722" r="5.5"/><circle cx="543" cy="722" r="5.5"/><circle cx="527" cy="705" r="5.5"/>
<circle cx="605" cy="702" r="5.5"/><circle cx="605" cy="678" r="5.5"/><circle cx="625" cy="693" r="5.5"/><circle cx="612" cy="732" r="5.5"/>
<circle cx="408" cy="753" r="5.5"/><circle cx="430" cy="752" r="5.5"/><circle cx="457" cy="772" r="5.5"/><circle cx="487" cy="760" r="5.5"/>
<circle cx="497" cy="735" r="5.5"/><circle cx="517" cy="728" r="5.5"/><circle cx="540" cy="735" r="5.5"/><circle cx="545" cy="752" r="5.5"/><circle cx="525" cy="757" r="5.5"/><circle cx="503" cy="752" r="5.5"/>
<circle cx="393" cy="782" r="5.5"/><circle cx="378" cy="775" r="5.5"/><circle cx="358" cy="774" r="5.5"/><circle cx="343" cy="781" r="5.5"/><circle cx="350" cy="795" r="5.5"/><circle cx="372" cy="797" r="5.5"/>
</g>
<circle cx="460" cy="655" r="5" fill="url(#gN)"/><circle cx="510" cy="667" r="5" fill="url(#gN)"/>
<circle cx="482" cy="678" r="7" fill="url(#gP)"/><circle cx="492" cy="672" r="6" fill="url(#gO)"/>
<circle cx="477" cy="722" r="7.5" fill="url(#gNi)"/><circle cx="443" cy="723" r="5.5" fill="url(#gOd)"/>
</g>
<rect x="402" y="712" width="72" height="71" fill="none" stroke="#c06060" stroke-width="1" stroke-dasharray="3 2"/>
<text class="m b" x="509" y="784">Int3</text>

<!-- 3D Int8 -->
<g stroke-linecap="round" fill="none">
<g stroke="#cdcdcd" stroke-width="3">
<polygon points="420,872 439,855 454,864 455,892 442,902 424,886"/>
<line x1="442" y1="902" x2="437" y2="922"/>
<polyline points="572,858 563,865 553,873 545,880 537,888 528,896 520,905"/>
<line x1="453" y1="983" x2="438" y2="1003"/><line x1="438" y1="1003" x2="443" y2="1028"/><line x1="443" y1="1028" x2="467" y2="1030"/><line x1="438" y1="1003" x2="413" y2="993"/><line x1="413" y1="993" x2="398" y2="1013"/><line x1="398" y1="1013" x2="383" y2="1030"/>
<polygon points="383,1030 363,1020 350,1037 355,1060 370,1073 383,1058"/>
<line x1="545" y1="994" x2="555" y2="1012"/><line x1="555" y1="1012" x2="530" y2="1027"/><line x1="555" y1="1012" x2="577" y2="1030"/><line x1="555" y1="1012" x2="570" y2="1000"/>
</g>
<g transform="translate(2,272)">
<g stroke="#222" stroke-width="3">
<line x1="398" y1="585" x2="392" y2="570"/><line x1="398" y1="585" x2="370" y2="585"/><line x1="398" y1="585" x2="418" y2="570"/><line x1="398" y1="585" x2="405" y2="620"/>
<polygon points="405,620 388,640 397,668 418,675 435,650 428,622"/>
<line x1="397" y1="668" x2="378" y2="693"/><line x1="378" y1="693" x2="355" y2="690"/><line x1="378" y1="693" x2="393" y2="715"/>
<line x1="435" y1="650" x2="463" y2="655"/>
<line x1="468" y1="647" x2="493" y2="646"/><line x1="493" y1="646" x2="520" y2="645"/><line x1="493" y1="646" x2="490" y2="675"/>
<line x1="513" y1="666" x2="535" y2="685"/>
<polygon points="535,685 556,685 576,701 575,721 551,721 535,703"/>
<line x1="576" y1="701" x2="603" y2="701"/><line x1="603" y1="701" x2="601" y2="678"/><line x1="603" y1="701" x2="628" y2="693"/><line x1="603" y1="701" x2="608" y2="728"/>
</g>
<g stroke="#555" stroke-width="2"><line x1="465" y1="655" x2="485" y2="682"/><line x1="485" y1="682" x2="513" y2="666"/><line x1="485" y1="682" x2="473" y2="720"/></g>
</g>
<g stroke="#222" stroke-width="3">
<polygon points="495,992 522,985 542,993 533,1005 507,1008 487,1002"/>
</g>
<line x1="475" y1="992" x2="485" y2="1035" stroke="#c08080" stroke-width="2"/>
<line x1="475" y1="992" x2="453" y2="983" stroke="#999" stroke-width="2"/>
</g>
<g>
<g fill="url(#gL)">
<circle cx="420" cy="872" r="5"/><circle cx="439" cy="855" r="5"/><circle cx="454" cy="864" r="5"/><circle cx="455" cy="892" r="5"/><circle cx="442" cy="902" r="5"/>
<circle cx="572" cy="858" r="5"/><circle cx="563" cy="865" r="5"/><circle cx="553" cy="873" r="5"/><circle cx="545" cy="880" r="5"/><circle cx="537" cy="888" r="5"/><circle cx="528" cy="896" r="5"/>
<circle cx="438" cy="1003" r="5"/><circle cx="443" cy="1028" r="5"/><circle cx="467" cy="1030" r="5"/><circle cx="413" cy="993" r="5"/><circle cx="398" cy="1013" r="5"/><circle cx="383" cy="1030" r="5"/>
<circle cx="363" cy="1020" r="5"/><circle cx="350" cy="1037" r="5"/><circle cx="355" cy="1060" r="5"/><circle cx="370" cy="1073" r="5"/><circle cx="383" cy="1058" r="5"/>
<circle cx="555" cy="1012" r="5.5"/><circle cx="530" cy="1027" r="5.5"/><circle cx="577" cy="1030" r="5.5"/><circle cx="570" cy="1000" r="5"/>
</g>
<g fill="url(#gD)" transform="translate(2,272)">
<circle cx="398" cy="585" r="5.5"/><circle cx="392" cy="570" r="5.5"/><circle cx="370" cy="585" r="5.5"/><circle cx="418" cy="570" r="5.5"/>
<circle cx="405" cy="620" r="5.5"/><circle cx="388" cy="640" r="5.5"/><circle cx="397" cy="668" r="5.5"/><circle cx="418" cy="675" r="5.5"/><circle cx="435" cy="650" r="5.5"/><circle cx="428" cy="622" r="5.5"/>
<circle cx="378" cy="693" r="5.5"/><circle cx="355" cy="690" r="5.5"/>
<circle cx="468" cy="647" r="5.5"/><circle cx="493" cy="646" r="5.5"/><circle cx="520" cy="645" r="5.5"/>
<circle cx="535" cy="685" r="5.5"/><circle cx="556" cy="685" r="5.5"/><circle cx="576" cy="701" r="5.5"/><circle cx="575" cy="721" r="5.5"/><circle cx="551" cy="721" r="5.5"/><circle cx="535" cy="703" r="5.5"/>
<circle cx="603" cy="701" r="5.5"/><circle cx="601" cy="678" r="5.5"/><circle cx="628" cy="693" r="5.5"/><circle cx="608" cy="728" r="5.5"/>
</g>
<circle cx="395" cy="987" r="5.5" fill="url(#gOd)"/>
<g fill="url(#gD)">
<circle cx="495" cy="992" r="5.5"/><circle cx="522" cy="985" r="5.5"/><circle cx="542" cy="993" r="5.5"/><circle cx="533" cy="1005" r="5.5"/><circle cx="507" cy="1008" r="5.5"/><circle cx="487" cy="1002" r="5.5"/>
</g>
<circle cx="467" cy="927" r="5" fill="url(#gN)"/><circle cx="515" cy="938" r="5" fill="url(#gN)"/>
<circle cx="487" cy="955" r="7" fill="url(#gP)"/><circle cx="490" cy="947" r="6" fill="url(#gO)"/>
<circle cx="488" cy="970" r="4.5" fill="url(#gPk)"/><circle cx="475" cy="967" r="4.5" fill="url(#gH)"/>
<circle cx="475" cy="992" r="7.5" fill="url(#gNi)"/><circle cx="453" cy="983" r="5.5" fill="url(#gPk)"/>
</g>
<rect x="400" y="973" width="73" height="69" fill="none" stroke="#c06060" stroke-width="1" stroke-dasharray="3 2"/>
<text class="m b g" x="509" y="1046">Int8</text>

<!-- NCI box 1 -->
<g clip-path="url(#c1)">
<g fill="#3cb83c" stroke="#2a8a2a" stroke-width="0.5">
<path d="M760,612 Q785,598 810,590 Q815,597 805,603 Q785,609 760,619 Z"/>
<path d="M815,600 Q835,585 860,581 Q866,589 850,596 Q830,603 815,604 Z"/>
<path d="M850,573 L905,573 L905,600 Q890,597 880,591 Q865,586 850,581 Z"/>
<path d="M765,718 Q777,704 791,710 Q798,732 792,757 Q780,762 768,752 Z"/>
<path d="M757,668 L768,664 L770,700 L757,706 Z"/>
<path d="M835,668 Q849,660 851,681 Q846,700 838,692 Z"/>
<path d="M862,693 Q885,680 905,688 L905,722 Q885,726 866,720 Z"/>
<path d="M893,642 L905,632 L905,662 Z"/>
</g>
<g stroke="#40b0c0" stroke-width="4" stroke-linecap="round">
<line x1="757" y1="697" x2="787" y2="675"/><line x1="787" y1="675" x2="828" y2="668"/><line x1="828" y1="668" x2="855" y2="723"/><line x1="855" y1="723" x2="905" y2="703"/><line x1="828" y1="668" x2="862" y2="630"/>
</g>
<g stroke="#cfe8ea" stroke-width="3.5" stroke-linecap="round">
<line x1="787" y1="675" x2="779" y2="642"/><line x1="787" y1="675" x2="808" y2="690"/><line x1="828" y1="668" x2="808" y2="653"/><line x1="855" y1="723" x2="830" y2="750"/><line x1="855" y1="723" x2="860" y2="738"/><line x1="882" y1="668" x2="893" y2="677"/>
</g>
<path d="M865,628 L905,622 L905,628 L870,634Z" fill="#8a5a30"/>
<g fill="url(#gH)">
<circle cx="779" cy="640" r="5"/><circle cx="808" cy="652" r="5"/><circle cx="808" cy="690" r="5"/><circle cx="828" cy="752" r="5.5"/><circle cx="860" cy="740" r="5"/><circle cx="893" cy="677" r="7"/>
</g>
<g fill="url(#gC)">
<circle cx="787" cy="675" r="7"/><circle cx="828" cy="668" r="7"/><circle cx="855" cy="723" r="7"/>
</g>
<circle cx="862" cy="630" r="7" fill="url(#gO)"/><circle cx="882" cy="668" r="9" fill="url(#gO)"/><circle cx="900" cy="642" r="6" fill="url(#gO)"/>
<g fill="#1030c0"><circle cx="881" cy="640" r="1.5"/><circle cx="885" cy="643" r="1.5"/><circle cx="878" cy="644" r="1.2"/><circle cx="888" cy="638" r="1.2"/></g>
</g>
<rect x="744" y="571" width="180" height="203" fill="none" stroke="#c06060" stroke-width="1" stroke-dasharray="3 2"/>

<!-- NCI box 2 -->
<g clip-path="url(#c2)">
<g fill="#3cb83c" stroke="#2a8a2a" stroke-width="0.5">
<path d="M757,880 Q775,858 800,850 L850,846 L907,846 L907,886 Q890,900 870,912 Q850,926 830,941 Q815,951 800,936 Q790,926 775,936 L757,942 Z"/>
<path d="M757,946 Q775,951 783,966 L781,1038 L757,1038 Z"/>
<path d="M866,942 Q878,935 888,944 Q884,958 870,956 Z"/>
<path d="M892,950 L907,945 L907,975 Z"/>
</g>
<path d="M760,905 Q790,880 830,870 Q800,895 770,915Z" fill="#60d060"/>
<g stroke="#40b0c0" stroke-width="4" stroke-linecap="round">
<line x1="763" y1="857" x2="757" y2="850"/><line x1="757" y1="935" x2="807" y2="923"/><line x1="807" y1="923" x2="847" y2="947"/><line x1="847" y1="947" x2="880" y2="907"/><line x1="847" y1="947" x2="838" y2="997"/><line x1="838" y1="997" x2="897" y2="1000"/><line x1="880" y1="907" x2="907" y2="895"/>
</g>
<g stroke="#d0e8ea" stroke-width="3.5" stroke-linecap="round">
<line x1="763" y1="857" x2="805" y2="863"/><line x1="763" y1="857" x2="765" y2="885"/><line x1="838" y1="997" x2="813" y2="975"/><line x1="847" y1="947" x2="862" y2="967"/><line x1="838" y1="997" x2="820" y2="1030"/><line x1="897" y1="1000" x2="883" y2="975"/>
</g>
<g fill="url(#gH)">
<circle cx="805" cy="863" r="6"/><circle cx="765" cy="885" r="6"/><circle cx="813" cy="975" r="6"/><circle cx="862" cy="967" r="6"/><circle cx="820" cy="1030" r="6"/><circle cx="883" cy="975" r="6"/>
</g>
<g fill="url(#gC)">
<circle cx="763" cy="857" r="8"/><circle cx="807" cy="923" r="8"/><circle cx="847" cy="947" r="8"/><circle cx="838" cy="997" r="8"/><circle cx="897" cy="1000" r="8"/>
</g>
<circle cx="880" cy="907" r="8" fill="url(#gO)"/><circle cx="883" cy="947" r="8" fill="url(#gO)"/>
<g fill="#1030c0"><circle cx="897" cy="903" r="1.6"/><circle cx="901" cy="907" r="1.4"/></g>
</g>
<rect x="744" y="842" width="180" height="203" fill="none" stroke="#c06060" stroke-width="1" stroke-dasharray="3 2"/>
<text class="m" x="834" y="1061">numerous noncovalent interactions</text>
</svg>
</body></html>
